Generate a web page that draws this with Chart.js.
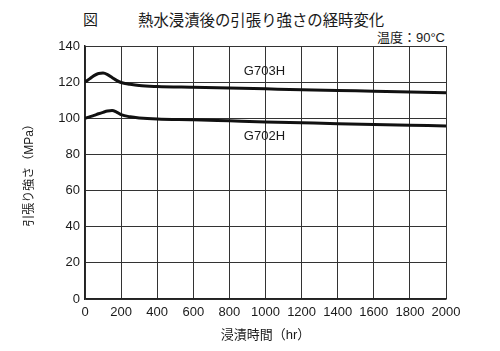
<!DOCTYPE html>
<html>
<head>
<meta charset="utf-8">
<script src="https://cdn.jsdelivr.net/npm/chart.js@4/dist/chart.umd.min.js"></script>
<style>
  html, body { margin: 0; padding: 0; background: #fff; }
  #wrap { position: relative; width: 500px; height: 351px; }
  #chart { position: absolute; left: 0; top: 0; }
  .txt { position: absolute; color: #1a1a1a; font-family: 'Liberation Sans', 'Noto Sans CJK JP', sans-serif; white-space: nowrap; }
</style>
</head>
<body>
<div id="wrap">
  <div class="txt" style="left:83px; top:8px; font-size:15px;">図</div>
  <div class="txt" style="left:138px; top:8px; font-size:15.4px;">熱水浸漬後の引張り強さの経時変化</div>
  <div class="txt" style="right:55px; top:27px; font-size:13px;">温度：90°C</div>
  <canvas id="chart" width="500" height="351"></canvas>
</div>
<script>
// immersion time (hr)
const hours = [0, 25, 50, 75, 100, 125, 150, 175, 200, 250, 300, 400, 600, 800, 1000, 1200, 1400, 1600, 1800, 2000];
// tensile strength (MPa)
const g703h = [120, 121.8, 123.6, 124.8, 125, 124.2, 122.6, 121, 119.8, 118.8, 118.1, 117.6, 117.2, 116.8, 116.3, 115.8, 115.4, 115, 114.6, 114.1];
const g702h = [100, 100.8, 101.6, 102.5, 103.3, 104, 104.3, 103.4, 102, 100.8, 100.2, 99.6, 99.2, 98.6, 98, 97.5, 97, 96.6, 96.2, 95.8];
const seriesNames = ['G703H', 'G702H'];
// label anchors in data units
const labelX = [880, 880];
const labelY = [125.8, 89.8];

const FONT = "'Liberation Sans', 'Noto Sans CJK JP', sans-serif";

const seriesLabels = {
  id: 'seriesLabels',
  afterDatasetsDraw(chart) {
    const { ctx, scales: { x, y } } = chart;
    ctx.save();
    ctx.font = '13px ' + FONT;
    ctx.fillStyle = '#1a1a1a';
    ctx.textBaseline = 'middle';
    seriesNames.forEach((name, i) => {
      ctx.fillText(name, x.getPixelForValue(labelX[i]), y.getPixelForValue(labelY[i]));
    });
    ctx.restore();
  }
};

const toPoints = arr => hours.map((h, i) => ({ x: h, y: arr[i] }));

new Chart(document.getElementById('chart'), {
  type: 'line',
  data: {
    datasets: [
      { label: seriesNames[0], data: toPoints(g703h), borderColor: '#111', borderWidth: 3, pointRadius: 0, tension: 0.4, cubicInterpolationMode: 'monotone' },
      { label: seriesNames[1], data: toPoints(g702h), borderColor: '#111', borderWidth: 3, pointRadius: 0, tension: 0.4, cubicInterpolationMode: 'monotone' }
    ]
  },
  options: {
    responsive: false,
    animation: false,
    layout: { padding: { top: 46, right: 54, left: 0, bottom: 0 } },
    plugins: { legend: { display: false }, tooltip: { enabled: false } },
    scales: {
      x: {
        type: 'linear',
        min: 0, max: 2000,
        afterFit(scale) { scale.height = 52; },
        ticks: { stepSize: 200, color: '#1a1a1a', padding: 6, maxRotation: 0, font: { family: FONT, size: 13 },
                 callback: v => String(v) },
        grid: { display: true, drawOnChartArea: true, color: '#333', lineWidth: 1, drawTicks: false },
        border: { display: true, color: '#222', width: 1.5 },
        title: { display: true, text: '浸漬時間（hr）', color: '#1a1a1a', padding: { top: 0, bottom: 8 }, font: { family: FONT, size: 13 } }
      },
      y: {
        min: 0, max: 140,
        afterFit(scale) { scale.width = 85; },
        ticks: { stepSize: 20, color: '#1a1a1a', padding: 5, font: { family: FONT, size: 13 },
                 callback: v => String(v) },
        grid: { display: true, drawOnChartArea: true, color: '#333', lineWidth: 1, drawTicks: false },
        border: { display: true, color: '#222', width: 1.5 },
        title: { display: true, text: '引張り強さ（MPa）', color: '#1a1a1a', padding: { top: 22, bottom: 0 }, font: { family: FONT, size: 12 } }
      }
    }
  },
  plugins: [seriesLabels]
});
</script>
</body>
</html>
